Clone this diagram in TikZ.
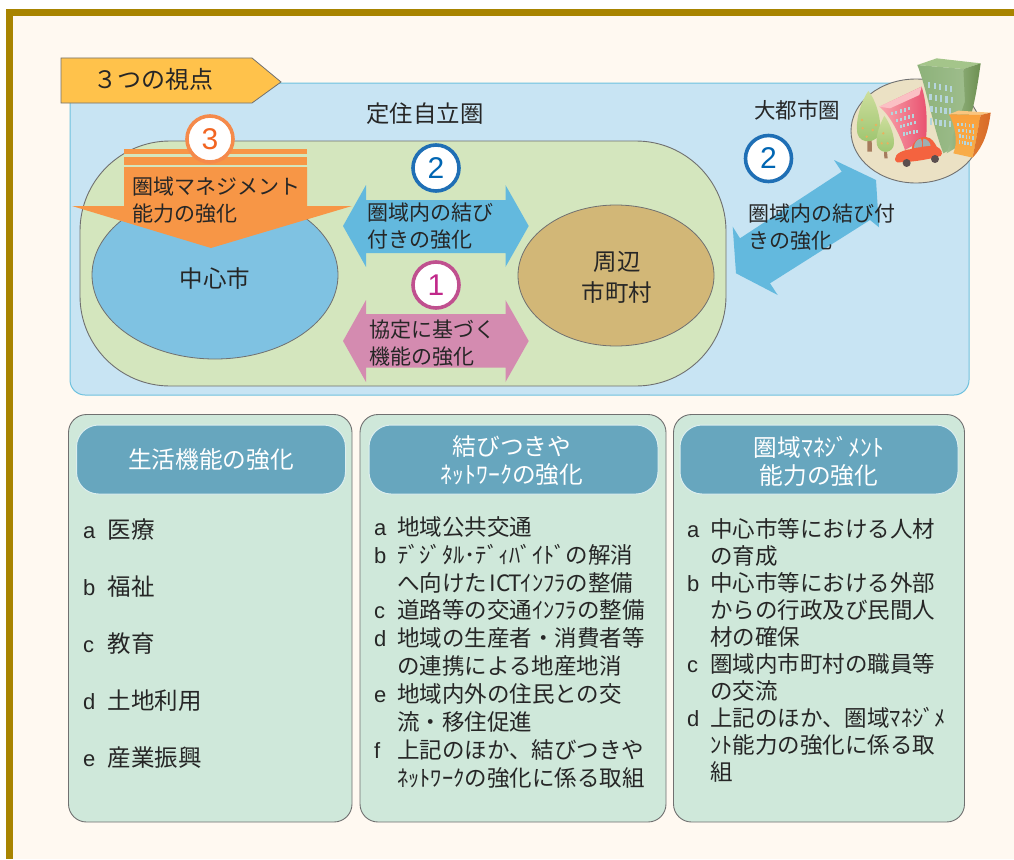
\documentclass[tikz,border=0pt]{standalone}
\usepackage{fontspec}
\setmainfont{Noto Sans CJK JP}
\newfontfamily\latinf{Liberation Sans}
\usetikzlibrary{shapes.geometric}
\definecolor{gold}{HTML}{A88400}
\definecolor{cream}{HTML}{FFF9F1}
\definecolor{panelblue}{HTML}{C8E4F3}
\definecolor{panelline}{HTML}{6EC1DE}
\definecolor{tagyellow}{HTML}{FFC24B}
\definecolor{zonegreen}{HTML}{D4E6BE}
\definecolor{cityblue}{HTML}{7FC2E2}
\definecolor{townbrown}{HTML}{D2B777}
\definecolor{arrowblue}{HTML}{63B9DE}
\definecolor{arrowpink}{HTML}{D48BB0}
\definecolor{arroworange}{HTML}{F79646}
\definecolor{cardgreen}{HTML}{CFE8DA}
\definecolor{headblue}{HTML}{67A6BE}
\definecolor{headline}{HTML}{DCEEEE}
\definecolor{inkc}{HTML}{262626}
\definecolor{edgec}{HTML}{707070}
\definecolor{winc}{HTML}{B5D5DC}
\definecolor{sand}{HTML}{EBE1C4}
\definecolor{ringorange}{HTML}{F58A4B}
\definecolor{numorange}{HTML}{F26522}
\definecolor{ringblue}{HTML}{1F6FB5}
\definecolor{numblue}{HTML}{0066B3}
\definecolor{ringpink}{HTML}{C0508F}
\definecolor{numpink}{HTML}{C1288A}
\definecolor{leafa}{HTML}{CDDE9C}
\definecolor{leafb}{HTML}{9CC46E}
\definecolor{trunk}{HTML}{A67C5E}
\definecolor{fruit}{HTML}{E8B25E}
\definecolor{greentop}{HTML}{A4C58A}
\definecolor{greenb}{HTML}{8DB27A}
\definecolor{greenc}{HTML}{A0BE8E}
\definecolor{greend}{HTML}{6C8F50}
\definecolor{pinka}{HTML}{F9A8AE}
\definecolor{pinkb}{HTML}{E9506F}
\definecolor{pinkc}{HTML}{FBC0C4}
\definecolor{orangea}{HTML}{F9A03C}
\definecolor{orangeb}{HTML}{F8AE4A}
\definecolor{orangec}{HTML}{E07A30}
\definecolor{oranged}{HTML}{D86A28}
\definecolor{carred}{HTML}{F4633F}
\definecolor{carwin}{HTML}{9DB0B3}
\definecolor{wheel}{HTML}{5B4F4F}
\newcommand{\hw}[1]{\makebox[0.5em][c]{#1}}
\newcommand{\topl}{\rule{0pt}{24pt}}
\tikzset{
  lbl/.style={inner sep=0pt,text=inkc,align=left,anchor=north west,font=\fontsize{21}{27}\selectfont},
  clbl/.style={inner sep=0pt,text=inkc,align=center,font=\fontsize{23.5}{31}\selectfont},
  zone/.style={ellipse,draw=edgec,line width=0.8pt,inner sep=0pt},
  badge/.style={circle,fill=white,line width=3.6pt,minimum size=46pt,inner sep=0pt,font=\latinf\fontsize{30}{30}\selectfont},
  card/.style={draw=edgec,line width=0.9pt,fill=cardgreen,rounded corners=18pt},
  headbox/.style={draw=headline,line width=1pt,fill=headblue,rounded corners=22pt},
  headtxt/.style={inner sep=0pt,text=white,align=center,font=\fontsize{23.7}{28}\selectfont},
  listtxt/.style={inner sep=0pt,text=inkc,align=left,anchor=north west},
  lettertxt/.style={inner sep=0pt,text=inkc,align=left,anchor=north west},
}
\begin{document}
\begin{tikzpicture}[x=1pt,y=-1pt]
\useasboundingbox (0,0) rectangle (1014,859);
\fill[white] (0,0) rectangle (1014,859);
\fill[gold] (6,9) rectangle (1014,859);
\fill[cream] (13,16) rectangle (1014,859);
% main panel
\draw[panelline,line width=1pt,fill=panelblue,rounded corners=15pt] (70,83) rectangle (969,395);
\draw[edgec,line width=0.8pt,fill=tagyellow] (61,58) -- (252,58) -- (281,82) -- (252,103) -- (61,103) -- cycle;
\node[clbl,font=\fontsize{24}{28}\selectfont] (tag) at (153.5,79) {３つの視点};
\node[clbl,font=\fontsize{23.4}{28}\selectfont] (selfzone) at (425,114) {定住自立圏};
% settlement zone
\draw[edgec,line width=0.9pt,fill=zonegreen,rounded corners=90pt] (80,141) rectangle (726,386);
\node[zone,fill=cityblue,minimum width=246pt,minimum height=168pt] (center) at (215,275) {};
\node[clbl] (centerlbl) at (215,278.5) {中心市};
\node[zone,fill=townbrown,minimum width=196pt,minimum height=141pt] (town) at (616,275.5) {};
\node[clbl] (townlbl) at (617,277) {周辺\\市町村};
% orange arrow
\fill[arroworange] (124,149) rectangle (307,153.7);
\fill[arroworange] (124,157) rectangle (307,164.7);
\fill[arroworange] (124,167) -- (307,167) -- (307,206) -- (352,206) -- (211,248) -- (72,206) -- (124,206) -- cycle;
\node[lbl] (mgmt) at (132.5,170) {\topl 圏域マネジメント\\能力の強化};
\node[badge,draw=ringorange,text=numorange] (b3) at (210,139) {3};
% blue double arrow
\fill[arrowblue] (343,226) -- (366,185) -- (366,200) -- (505.5,200) -- (505.5,185) -- (528.7,226) -- (505.5,267) -- (505.5,253) -- (366,253) -- (366,267) -- cycle;
\node[lbl] (link) at (367.5,196) {\topl 圏域内の結び\\付きの強化};
\node[badge,draw=ringblue,text=numblue] (b2) at (436,168) {2};
% pink double arrow
\fill[arrowpink] (343,341) -- (366,300) -- (366,314) -- (505.5,314) -- (505.5,300) -- (528.7,341) -- (505.5,382) -- (505.5,367.5) -- (366,367.5) -- (366,382) -- cycle;
\node[lbl] (pact) at (369.5,313) {\topl 協定に基づく\\機能の強化};
\node[badge,draw=ringpink,text=numpink] (b1) at (436,285) {1};
% diagonal arrow
\fill[arrowblue] (834,160) -- (876,180) -- (879,227.3) -- (870,220) -- (770,283.3) -- (777.7,295) -- (736,273.3) -- (732.7,226.7) -- (740,238.3) -- (841.7,171.7) -- cycle;
\node[clbl,font=\fontsize{21.5}{27}\selectfont] (metro) at (797,110) {大都市圏};
\node[badge,draw=ringblue,text=numblue] (b2b) at (768.5,158.5) {2};
\node[lbl] (link2) at (748.5,197) {\topl 圏域内の結び付\\きの強化};
% city
\node[ellipse,draw=edgec,line width=0.9pt,fill=sand,minimum width=130pt,minimum height=104pt,inner sep=0pt] (cityspot) at (916,131) {};
\begin{scope}[shift={(840,45)},x=0.3333pt,y=-0.3333pt]
  % trees
  \fill[trunk] (82,285) -- (95,285) -- (96,320) -- (82,320) -- cycle;
  \shade[top color=leafa,bottom color=leafb] (85,138) .. controls (105,160) and (125,220) .. (120,260) .. controls (115,295) and (60,300) .. (52,265) .. controls (45,225) and (65,165) .. (85,138) -- cycle;
  \fill[trunk] (132,320) -- (141,320) -- (143,340) -- (133,340) -- cycle;
  \shade[top color=leafa,bottom color=leafb] (133,212) .. controls (150,235) and (168,280) .. (160,305) .. controls (150,328) and (118,325) .. (111,300) .. controls (105,270) and (122,235) .. (133,212) -- cycle;
  \foreach \px/\py in {68/250, 98/255, 80/275, 108/240, 66/225, 125/295, 143/295, 130/265}
    \fill[fruit] (\px,\py) circle (4);
  % green building
  \fill[greentop] (232,60) -- (290,40) -- (422,55) -- (370,72) -- cycle;
  \shade[left color=greenb,right color=greenc] (232,60) -- (370,72) -- (395,190) -- (330,315) -- (310,325) .. controls (280,250) and (260,130) .. (232,60) -- cycle;
  \shade[left color=greenc,right color=greend] (370,72) -- (422,55) .. controls (412,130) and (400,190) .. (390,220) -- (345,310) -- (320,325) -- (375,170) -- cycle;
  \foreach \xa/\ya/\xb/\yb in {264/111/330/122, 268/147/332/156, 271/183/327/190, 270/220/326/228}
    \foreach \i in {0,...,4}
      \fill[winc] ({\xa+\i*(\xb-\xa)/4},{\ya+\i*(\yb-\ya)/4}) rectangle ++(7,19);
  % pink building
  \shade[left color=pinka,right color=pinkb] (118,185) -- (245,125) .. controls (262,180) and (262,240) .. (258,280) -- (195,315) .. controls (180,270) and (150,210) .. (118,185) -- cycle;
  \fill[pinkc] (118,185) -- (245,125) -- (238,150) -- (150,190) -- cycle;
  \foreach \xa/\ya/\xb/\yb in {153/201/205/186, 167/221/217/208, 180/240/221/228, 188/262/228/254}
    \foreach \i in {0,...,4}
      \fill[winc] ({\xa+\i*(\xb-\xa)/4},{\ya+\i*(\yb-\ya)/4}) rectangle ++(6,10);
  % orange building
  \fill[orangeb!70!white] (327,208) -- (355,197) -- (452,203) -- (422,210) -- cycle;
  \shade[top color=orangea,bottom color=orangeb] (327,208) -- (422,210) -- (398,338) -- (340,325) .. controls (355,290) and (345,240) .. (327,208) -- cycle;
  \shade[left color=orangec,right color=oranged] (422,210) -- (452,203) .. controls (445,260) and (430,305) .. (398,338) -- cycle;
  \foreach \xa/\ya/\xb/\yb in {351/233/397/238, 355/251/398/256, 357/268/396/274, 356/286/390/292}
    \foreach \i in {0,...,4}
      \fill[winc] ({\xa+\i*(\xb-\xa)/4},{\ya+\i*(\yb-\ya)/4}) rectangle ++(5,10);
  % car
  \fill[carred] (165,342) .. controls (165,325) and (190,315) .. (215,312) .. controls (218,290) and (235,275) .. (258,276) .. controls (275,277) and (285,295) .. (290,305) .. controls (305,312) and (310,325) .. (302,333) .. controls (260,345) and (210,352) .. (172,352) .. controls (167,351) and (165,346) .. (165,342) -- cycle;
  \fill[carwin] (222,309) .. controls (222,295) and (230,282) .. (243,281) .. controls (248,290) and (247,298) .. (245,306) -- cycle;
  \fill[carwin] (249,305) .. controls (250,295) and (248,288) .. (250,281) .. controls (262,282) and (270,292) .. (272,302) -- cycle;
  \fill[wheel] (200,354) circle (12);
  \fill[wheel] (285,342) circle (12);
\end{scope}
% cards
\draw[card] (68.5,414.5) rectangle (352,822);
\draw[headbox] (76.5,425) rectangle (345.5,494);
\node[headtxt] (h1) at (211,460) {生活機能の強化};
\node[lettertxt,font=\latinf\fontsize{22}{57.1}\selectfont] (l1) at (83,514) {\topl a\\b\\c\\d\\e};
\node[listtxt,font=\fontsize{23.5}{57.1}\selectfont] (t1) at (107.5,514) {\topl 医療\\福祉\\教育\\土地利用\\産業振興};
\draw[card] (360,414.5) rectangle (666,822);
\draw[headbox] (369,425) rectangle (658,494);
\node[headtxt] (h2) at (512,461) {結びつきや\\ﾈｯﾄﾜｰｸの強化};
\node[lettertxt,font=\latinf\fontsize{22}{27.9}\selectfont] (l2) at (374,511) {\topl a\\b\\\mbox{}\\c\\d\\\mbox{}\\e\\\mbox{}\\f\\\mbox{}};
\node[listtxt,font=\fontsize{22.5}{27.9}\selectfont] (t2) at (397,511) {\topl 地域公共交通\\ﾃﾞｼﾞﾀﾙ･ﾃﾞｨﾊﾞｲﾄﾞの解消\\へ向けた\hw{I}\hw{C}\hw{T}ｲﾝﾌﾗの整備\\道路等の交通ｲﾝﾌﾗの整備\\地域の生産者・消費者等\\の連携による地産地消\\地域内外の住民との交\\流・移住促進\\上記のほか、結びつきや\\ﾈｯﾄﾜｰｸの強化に係る取組};
\draw[card] (673.5,414.5) rectangle (964.5,822);
\draw[headbox] (680,425) rectangle (958,494);
\node[headtxt] (h3) at (819,461) {圏域ﾏﾈｼﾞﾒﾝﾄ\\能力の強化};
\node[lettertxt,font=\latinf\fontsize{22}{27.03}\selectfont] (l3) at (687,513) {\topl a\\\mbox{}\\b\\\mbox{}\\\mbox{}\\c\\\mbox{}\\d};
\node[listtxt,font=\fontsize{22.5}{27.03}\selectfont] (t3) at (710,513) {\topl 中心市等における人材\\の育成\\中心市等における外部\\からの行政及び民間人\\材の確保\\圏域内市町村の職員等\\の交流\\上記のほか、圏域ﾏﾈｼﾞﾒ\\ﾝﾄ能力の強化に係る取\\組};
\end{tikzpicture}
\end{document}
